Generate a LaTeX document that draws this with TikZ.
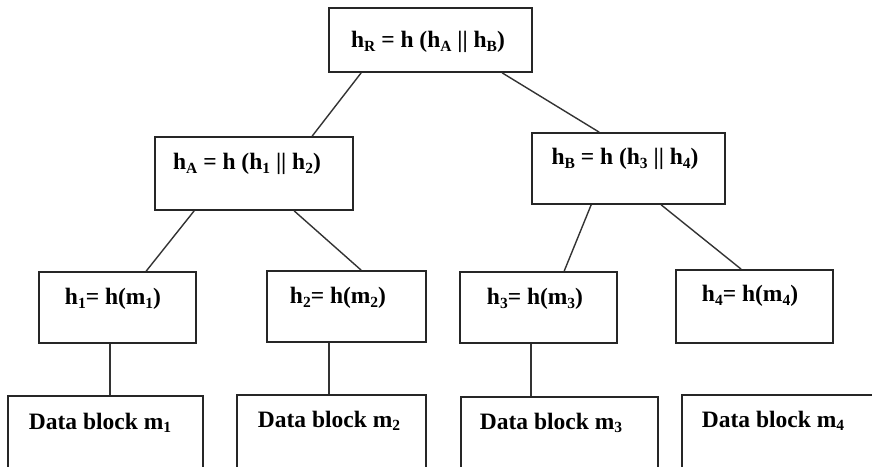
\documentclass[tikz,border=0pt]{standalone}
\usepackage{fontspec}
\setmainfont{Liberation Serif}
\newcommand{\sbx}[1]{\raisebox{-3.5pt}{\fontsize{15.5}{16}\selectfont #1}}
\begin{document}
\begin{tikzpicture}[x=1pt,y=-1pt,
  box/.style={draw=black!85, line width=1.7pt, inner sep=0pt, rectangle},
  lbl/.style={font=\fontsize{23.5}{27}\selectfont\bfseries, inner sep=0pt, anchor=center},
  link/.style={draw=black!80, line width=1.4pt}]
\useasboundingbox (0,0) rectangle (872,466);
\clip (0,0) rectangle (872,466);
% boxes
\node[box, minimum width=203pt, minimum height=64pt] (r) at (430.5,40) {};
\node[box, minimum width=198pt, minimum height=73pt] (A) at (254,173.5) {};
\node[box, minimum width=193pt, minimum height=71pt] (B) at (628.5,168.5) {};
\node[box, minimum width=157pt, minimum height=71pt] (h1) at (117.5,307.5) {};
\node[box, minimum width=159pt, minimum height=71pt] (h2) at (346.5,306.5) {};
\node[box, minimum width=157pt, minimum height=71pt] (h3) at (538.5,307.5) {};
\node[box, minimum width=157pt, minimum height=73pt] (h4) at (754.5,306.5) {};
\node[box, minimum width=195pt, minimum height=120pt] (d1) at (105.5,456) {};
\node[box, minimum width=189pt, minimum height=120pt] (d2) at (331.5,455) {};
\node[box, minimum width=197pt, minimum height=120pt] (d3) at (559.5,457) {};
\node[box, minimum width=220pt, minimum height=120pt] (d4) at (792,455) {};
% texts
\node[lbl] (tr) at (428,42) {h\sbx{R} = h (h\sbx{A} || h\sbx{B})};
\node[lbl] (tA) at (247,164) {h\sbx{A} = h (h\sbx{1} || h\sbx{2})};
\node[lbl] (tB) at (625,159) {h\sbx{B} = h (h\sbx{3} || h\sbx{4})};
\node[lbl] (t1) at (113,299) {h\sbx{1}= h(m\sbx{1})};
\node[lbl] (t2) at (338,298) {h\sbx{2}= h(m\sbx{2})};
\node[lbl] (t3) at (535,299) {h\sbx{3}= h(m\sbx{3})};
\node[lbl] (t4) at (750,296) {h\sbx{4}= h(m\sbx{4})};
\node[lbl] (td1) at (100,423) {Data block m\sbx{1}};
\node[lbl] (td2) at (329,421) {Data block m\sbx{2}};
\node[lbl] (td3) at (551,423) {Data block m\sbx{3}};
\node[lbl] (td4) at (773,421) {Data block m\sbx{4}};
% connectors
\draw[link] ([xshift=33pt]r.south west) -- ([xshift=158pt]A.north west);
\draw[link] ([xshift=174pt]r.south west) -- ([xshift=68pt]B.north west);
\draw[link] ([xshift=40pt]A.south west) -- ([xshift=108pt]h1.north west);
\draw[link] ([xshift=140pt]A.south west) -- ([xshift=95pt]h2.north west);
\draw[link] ([xshift=60pt]B.south west) -- ([xshift=105pt]h3.north west);
\draw[link] ([xshift=130pt]B.south west) -- ([xshift=66pt]h4.north west);
\draw[link] ([xshift=72pt]h1.south west) -- ([xshift=103pt]d1.north west);
\draw[link] ([xshift=63pt]h2.south west) -- ([xshift=93pt]d2.north west);
\draw[link] ([xshift=72pt]h3.south west) -- ([xshift=71pt]d3.north west);
\end{tikzpicture}
\end{document}
